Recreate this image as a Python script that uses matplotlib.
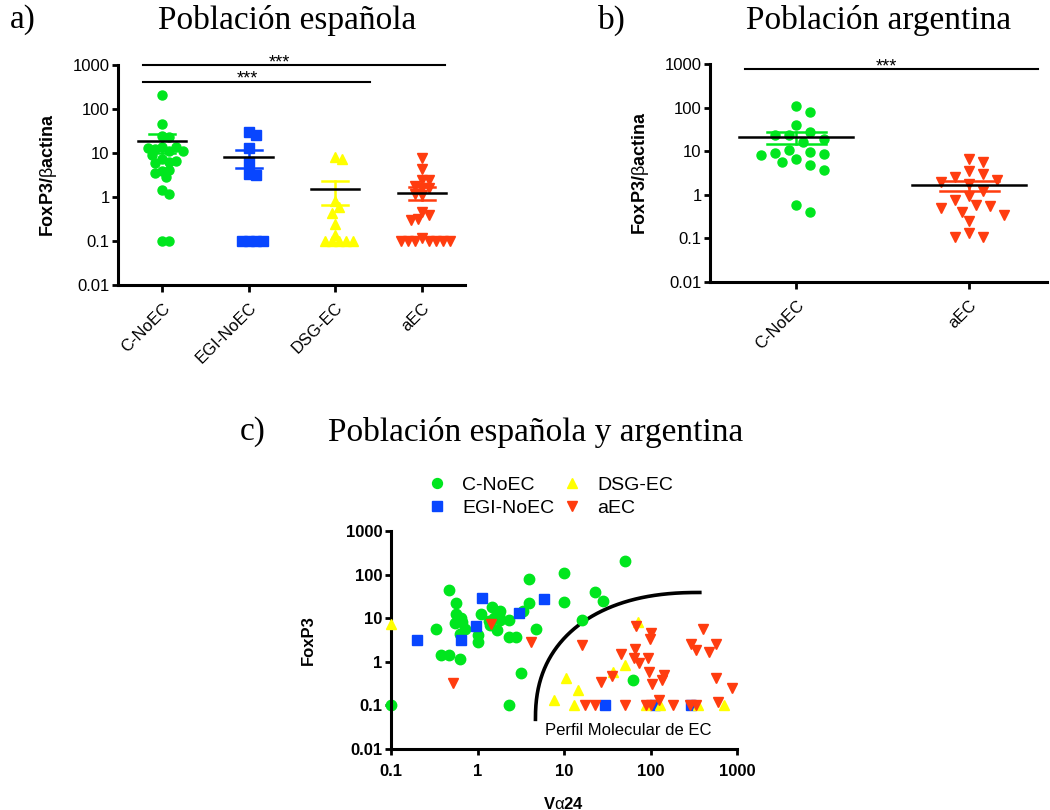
import numpy as np
import matplotlib
matplotlib.use('Agg')
import matplotlib.pyplot as plt

plt.rcParams['font.family'] = ['Liberation Sans', 'DejaVu Sans']
plt.rcParams['mathtext.fontset'] = 'custom'
plt.rcParams['mathtext.rm'] = 'Liberation Sans'
plt.rcParams['mathtext.bf'] = 'Liberation Sans:bold'
plt.rcParams['mathtext.it'] = 'Liberation Sans:italic'

GREEN = '#00e61e'
BLUE = '#0846ff'
YELLOW = '#ffff00'
RED = '#ff3c0f'

# a) Spanish population, FoxP3/beta-actin per group
es_groups = ['C-NoEC', 'EGI-NoEC', 'DSG-EC', 'aEC']
es_c_noec = [208, 45, 24.5, 23, 14, 11, 12.6, 13.5, 13, 11, 7.2, 6.2, 5.9, 9,
             6.5, 4.0, 4.2, 3.6, 2.8, 1.45, 1.19, 0.1, 0.1]
es_egi_noec = [29.5, 26, 12.8, 6.2, 3.3, 3.2, 0.1, 0.1, 0.1, 0.1]
es_dsg_ec = [8, 7.3, 0.83, 0.6, 0.44, 0.24, 0.14, 0.1, 0.1, 0.1, 0.1, 0.1]
es_aec = [7.6, 4.3, 2.4, 2.4, 1.8, 1.6, 1.6, 1.2, 1.1, 0.46, 0.4, 0.32, 0.3,
          0.12, 0.1, 0.1, 0.1, 0.1, 0.1, 0.1, 0.1]

# b) Argentine population
ar_groups = ['C-NoEC', 'aEC']
ar_c_noec = [111, 81, 40, 27, 23.7, 23, 18.8, 16.4, 10.7, 9.8, 9.3, 8.7, 8,
             6.6, 5.7, 4.7, 3.7, 0.57, 0.40]
ar_aec = [6.6, 5.7, 3.5, 3.0, 2.6, 2.2, 2.0, 1.8, 1.25, 0.95, 0.77, 0.58,
          0.54, 0.5, 0.4, 0.35, 0.25, 0.13, 0.11, 0.11]

# c) both populations, Va24 vs FoxP3
c_noec_va24 = [0.1, 0.47, 0.57, 0.56, 0.65, 0.55, 0.67, 0.71, 0.62, 0.33, 0.38,
               0.47, 0.62, 1.0, 1.0, 1.11, 1.48, 1.81, 1.39, 1.66, 1.84, 2.32,
               3.4, 2.3, 2.8, 3.2, 2.3, 3.9, 3.9, 4.7, 10, 10, 16, 23, 28, 51,
               62, 1.55, 1.75, 1.35]
c_noec_foxp3 = [0.1, 45, 22, 12.8, 10, 7.6, 8.2, 5.8, 4.3, 5.8, 1.42, 1.42,
                1.17, 4.1, 2.9, 12.8, 18, 15, 6.9, 5.3, 9, 9.3, 15, 3.7, 3.7,
                0.56, 0.1, 78, 22.5, 5.6, 110, 24, 9, 40, 25, 205, 0.39, 10,
                12, 8.5]
egi_noec_va24 = [0.2, 0.64, 0.97, 1.14, 3.0, 5.8, 30, 114, 296]
egi_noec_foxp3 = [3.2, 3.1, 6.6, 29.5, 13, 27, 0.1, 0.1, 0.1]
dsg_ec_va24 = [0.1, 7.7, 10.5, 14.5, 13, 37, 51, 72, 89, 129, 350, 700]
dsg_ec_foxp3 = [7.3, 0.13, 0.42, 0.22, 0.1, 0.58, 0.84, 8.2, 0.1, 0.1, 0.1, 0.1]
aec_va24 = [1.43, 4.2, 0.52, 16, 68, 99, 100, 400, 295, 340, 570, 480, 46, 67,
            65, 73, 93, 97, 145, 136, 105, 36, 27, 575, 870, 600, 125, 17.6,
            23, 51, 89, 100, 180, 290, 340]
aec_foxp3 = [7.5, 2.9, 0.33, 2.4, 6.6, 3.4, 4.6, 5.8, 2.5, 1.85, 2.6, 1.7, 1.5,
             2.0, 1.2, 0.92, 1.2, 0.59, 0.5, 0.39, 0.31, 0.47, 0.35, 0.42,
             0.25, 0.12, 0.13, 0.1, 0.1, 0.1, 0.1, 0.1, 0.1, 0.1, 0.1]

MARKERS = {'C-NoEC': 'o', 'EGI-NoEC': 's', 'DSG-EC': '^', 'aEC': 'v'}
COLORS = {'C-NoEC': GREEN, 'EGI-NoEC': BLUE, 'DSG-EC': YELLOW, 'aEC': RED}
YLABEL = r'$\mathbf{FoxP3/}\mathrm{β}\mathbf{actina}$'

W, H = 1050, 810


def swarm(values, px_per_unit, px_per_decade, step, dist):
    """Greedy beeswarm: horizontal offsets (data units) so markers barely overlap."""
    placed = []
    offs = []
    cands = [0]
    for i in range(1, 30):
        cands += [i, -i]
    for v in values:
        y = np.log10(v) * px_per_decade
        for c in cands:
            x = c * step
            if all((x - px) ** 2 + (y - py) ** 2 >= dist ** 2 for px, py in placed):
                break
        placed.append((x, y))
        offs.append(x)
    return np.array(offs) / px_per_unit


def style_axes(ax, bold=False):
    for side in ['top', 'right']:
        ax.spines[side].set_visible(False)
    for side in ['left', 'bottom']:
        ax.spines[side].set_linewidth(2.2)
    ax.tick_params(width=2, length=4, labelsize=12, pad=2)
    ax.tick_params(which='minor', length=0)
    if bold:
        for lab in ax.get_xticklabels() + ax.get_yticklabels():
            lab.set_fontweight('bold')


def column_plot(ax, groups, data, width_px, mean_half, sem_half, step, dist):
    ax.set_yscale('log')
    ax.set_ylim(0.01, 1000)
    ax.set_xlim(-0.51, len(groups) - 0.5)
    px_unit = width_px / (len(groups) + 0.01)
    px_dec = ax.get_position().height * H / 5
    for i, (name, vals) in enumerate(zip(groups, data)):
        vals = np.asarray(vals, dtype=float)
        xs = i + swarm(vals, px_unit, px_dec, step, dist)
        ax.plot(xs, vals, ls='none', marker=MARKERS[name], ms=6.5,
                color=COLORS[name], mec=COLORS[name], zorder=2, clip_on=False)
        m = vals.mean()
        sem = vals.std(ddof=1) / np.sqrt(len(vals))
        ax.plot([i - mean_half, i + mean_half], [m, m], color='black', lw=1.8, zorder=4)
        ax.plot([i, i], [m - sem, m + sem], color=COLORS[name], lw=1.8, zorder=3)
        for v in (m - sem, m + sem):
            ax.plot([i - sem_half, i + sem_half], [v, v], color=COLORS[name], lw=1.8, zorder=3)
    ax.set_xticks(range(len(groups)))
    ax.set_xticklabels(groups, rotation=45, ha='right', rotation_mode='anchor')
    ax.set_yticks([0.01, 0.1, 1, 10, 100, 1000])
    ax.set_yticklabels(['0.01', '0.1', '1', '10', '100', '1000'])
    ax.set_ylabel(YLABEL, fontsize=13, labelpad=10)
    style_axes(ax)
    ax.tick_params(axis='x', length=5, pad=6)


def sig_bar(ax, x0, x1, y, xt, text='***'):
    ax.plot([x0, x1], [y, y], color='black', lw=1.5, clip_on=False)
    ax.text(xt, y * 0.9, text, ha='center', va='baseline', fontsize=13)


fig = plt.figure(figsize=(W / 100, H / 100), dpi=100)

ax_a = fig.add_axes([118 / W, 1 - 285 / H, 347 / W, 220 / H])
column_plot(ax_a, es_groups, [es_c_noec, es_egi_noec, es_dsg_ec, es_aec],
            347, 0.28, 0.15, step=3.5, dist=7.0)
sig_bar(ax_a, -0.22, 3.27, 1000, 1.35)
sig_bar(ax_a, -0.22, 2.4, 420, 0.98)

ax_b = fig.add_axes([710 / W, 1 - 282 / H, 337 / W, 218 / H])
column_plot(ax_b, ar_groups, [ar_c_noec, ar_aec], 337, 0.33, 0.17,
            step=6.8, dist=11.0)
ax_b.set_xlim(-0.5, 1.45)
sig_bar(ax_b, -0.3, 1.4, 750, 0.52)

# c) scatter of both populations
ax_c = fig.add_axes([391 / W, 1 - 749 / H, 346 / W, 218 / H])
ax_c.set_xscale('log')
ax_c.set_yscale('log')
series = [('C-NoEC', c_noec_va24, c_noec_foxp3),
          ('EGI-NoEC', egi_noec_va24, egi_noec_foxp3),
          ('DSG-EC', dsg_ec_va24, dsg_ec_foxp3),
          ('aEC', aec_va24, aec_foxp3)]
for z, (name, xv, yv) in enumerate(series):
    ax_c.plot(xv, yv, ls='none', marker=MARKERS[name], ms=7.5, color=COLORS[name],
              mec=COLORS[name], label=name, zorder=2 + z, clip_on=False)
ax_c.set_xlim(0.1, 1000)
ax_c.set_ylim(0.01, 1000)
ax_c.set_xticks([0.1, 1, 10, 100, 1000])
ax_c.set_xticklabels(['0.1', '1', '10', '100', '1000'])
ax_c.set_yticks([0.01, 0.1, 1, 10, 100, 1000])
ax_c.set_yticklabels(['0.01', '0.1', '1', '10', '100', '1000'])
style_axes(ax_c, bold=True)
ax_c.tick_params(axis='x', pad=7)
ax_c.set_xlabel(r'$\mathbf{V}\mathrm{α}\mathbf{24}$', fontsize=12, labelpad=12)
ax_c.set_ylabel('FoxP3', fontsize=12, fontweight='bold', labelpad=22)

# boundary of the molecular profile (quarter superellipse in log space)
t = np.linspace(0, np.pi / 2, 200)
cx, cy, rx, ry, n = 2.57, -1.32, 1.9, 2.91, 2.3
lx = cx - rx * np.abs(np.cos(t)) ** (2 / n)
ly = cy + ry * np.abs(np.sin(t)) ** (2 / n)
ax_c.plot(10 ** lx, 10 ** ly, color='black', lw=2.6, zorder=1)
ax_c.text(10 ** 1.74, 0.04, 'Perfil Molecular de EC', ha='center', va='top', fontsize=12)

handles, labels = ax_c.get_legend_handles_labels()
fig.legend(handles, labels, ncol=2, loc='upper left', frameon=False,
           bbox_to_anchor=(427 / W, 1 - 476 / H), fontsize=14,
           borderpad=0, borderaxespad=0,
           handletextpad=0.8, columnspacing=0.4, labelspacing=0.28,
           handlelength=1.0, markerscale=0.95)

# panel titles
tfont = dict(family=['Liberation Serif', 'DejaVu Serif'], fontsize=24, va='center')
fig.text(10 / W, 1 - 20 / H, 'a)', ha='left', **tfont)
fig.text(287 / W, 1 - 20 / H, 'Población española', ha='center', **tfont)
fig.text(598 / W, 1 - 20 / H, 'b)', ha='left', **tfont)
fig.text(879 / W, 1 - 20 / H, 'Población argentina', ha='center', **tfont)
fig.text(240 / W, 1 - 432 / H, 'c)', ha='left', **tfont)
fig.text(536 / W, 1 - 432 / H, 'Población española y argentina', ha='center', **tfont)

fig.savefig('out.png', dpi=100)
